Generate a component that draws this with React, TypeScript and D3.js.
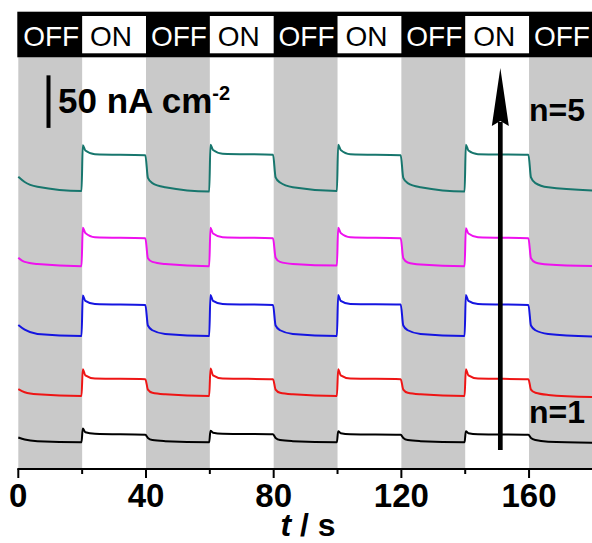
import React from 'react';
import * as d3 from 'd3';

const W = 592;
const H = 543;

// illumination phases (s)
const phaseLabels = ['OFF', 'ON', 'OFF', 'ON', 'OFF', 'ON', 'OFF', 'ON', 'OFF'];
const phaseStarts = [0, 20, 40, 60, 80, 100, 120, 140, 160];
const phaseEnds = [20, 40, 60, 80, 100, 120, 140, 160, 180];

// x ticks
const majorTicks = [0, 40, 80, 120, 160];
const minorTicks = [20, 60, 100, 140];

// key time points of the photocurrent traces (s)
const times = [
  0, 2, 6, 19.8,
  20.2, 21, 24, 39.8,
  40.6, 42, 46, 59.8,
  60.2, 61, 64, 79.8,
  80.6, 82, 86, 99.8,
  100.2, 101, 104, 119.8,
  120.6, 122, 126, 139.8,
  140.2, 141, 144, 159.8,
  160.6, 162, 166, 180,
];

// current densities (nA cm^-2, stacked with offsets)
const n5Values = [
  277, 272, 267.5, 263.5,
  307, 302, 298.5, 297.5,
  276, 271, 267, 263,
  307.5, 302.5, 299, 298,
  276.5, 271.5, 267, 263.5,
  307.5, 302.5, 298.5, 297.5,
  276, 271, 267, 263,
  307.5, 302, 298.5, 298,
  276.5, 271, 267, 264,
];
const n4Values = [
  200, 196, 194, 192,
  228.5, 223.5, 219.5, 218.5,
  199.5, 196, 194, 192,
  228.5, 223, 219.5, 218.5,
  200, 196, 194, 192.5,
  228.5, 223.5, 219.5, 218.5,
  199.5, 195.5, 193.5, 192,
  228, 223, 219.5, 218.5,
  199.5, 195.5, 193.5, 192,
];
const n3Values = [
  136, 131.5, 127.5, 125.5,
  164, 159, 156, 155,
  135.5, 131, 127.5, 125.5,
  164.5, 159, 156, 155,
  135.5, 131, 127.5, 125.5,
  164.5, 159, 156, 155.5,
  135.5, 131, 127.5, 125.5,
  164.5, 159, 156, 155,
  135.5, 131, 127.5, 125,
];
const n2Values = [
  75, 72, 70, 68.5,
  94, 88, 85, 84.5,
  74.5, 71.5, 70, 68.5,
  94.5, 88, 85, 84.5,
  74.5, 71.5, 70, 68.5,
  94, 88, 85, 84.5,
  74.5, 71.5, 70, 68.5,
  94, 88, 85, 84.5,
  74.5, 71.5, 69.5, 67.5,
];
const n1Values = [
  29, 27, 25.5, 24.5,
  37.5, 34, 32.5, 31.5,
  28.5, 26.5, 25.5, 24.5,
  35.5, 33.5, 32.5, 32,
  28.5, 26.5, 25.5, 24.5,
  35, 33, 32, 31.5,
  28.5, 26.5, 25.5, 24.5,
  35, 33, 32, 31.5,
  28.5, 26.5, 25, 24,
];

const seriesNames = ['n=5', 'n=4', 'n=3', 'n=2', 'n=1'];
const seriesColors = ['#17766d', '#ee11ee', '#1515e0', '#ee1515', '#000000'];
const seriesValues = [n5Values, n4Values, n3Values, n2Values, n1Values];

// scale bar and arrow (data units)
const scaleBarBase = 323.5;
const scaleBarSize = 50;
const arrowTime = 151;
const arrowFrom = 17;
const arrowTo = 380.5;

const FONT = "'Liberation Sans', Arial, Helvetica, sans-serif";

export default function App() {
  const x = d3.scaleLinear().domain([0, 180]).range([18.3, 592.9]);
  const y = d3.scaleLinear().domain([-1, 390]).range([469, 58]);

  const barTop = 11.7;
  const barBottom = 57.3;
  const plotTop = 57.3;
  const axisY = 469;

  const line = d3
    .line<number>()
    .x((_, i) => x(times[i]))
    .y((v) => y(v))
    .curve(d3.curveMonotoneX);

  const ax = x(arrowTime);
  const tipY = y(arrowTo);
  const headLen = 58;
  const headHalf = 8.5;

  return (
    <svg
      width={W}
      height={H}
      viewBox={`0 0 ${W} ${H}`}
      style={{ position: 'absolute', left: 0, top: 0, background: '#fff' }}
      fontFamily={FONT}
    >
      <rect x={0} y={0} width={W} height={H} fill="#fff" />
      {/* gray OFF bands */}
      {phaseLabels.map((lab, i) =>
        lab === 'OFF' ? (
          <rect
            key={'band' + i}
            x={x(phaseStarts[i])}
            y={plotTop}
            width={x(phaseEnds[i]) - x(phaseStarts[i])}
            height={axisY - plotTop}
            fill="#c9c9c9"
          />
        ) : null
      )}
      {/* top illumination bar */}
      <rect x={x(0) - 1} y={barTop} width={W - x(0) + 2} height={barBottom - barTop} fill="#000" />
      {phaseLabels.map((lab, i) => {
        const cx = (x(phaseStarts[i]) + x(phaseEnds[i])) / 2;
        return (
          <g key={'ph' + i}>
            {lab === 'ON' && (
              <rect
                x={x(phaseStarts[i])}
                y={16}
                width={x(phaseEnds[i]) - x(phaseStarts[i])}
                height={37.3}
                fill="#fff"
              />
            )}
            <text
              x={lab === 'ON' ? cx - 3 : cx + 1}
              y={45.5}
              textAnchor="middle"
              fontSize={28}
              fill={lab === 'ON' ? '#000' : '#fff'}
            >
              {lab}
            </text>
          </g>
        );
      })}
      {/* traces */}
      {seriesValues.map((vals, i) => (
        <path
          key={seriesNames[i]}
          d={line(vals) || ''}
          fill="none"
          stroke={seriesColors[i]}
          strokeWidth={2}
          strokeLinejoin="round"
        />
      ))}
      {/* x axis */}
      <line x1={x(0) - 1} x2={W} y1={axisY} y2={axisY} stroke="#000" strokeWidth={2} />
      {majorTicks.map((t) => (
        <g key={'mt' + t}>
          <line x1={x(t)} x2={x(t)} y1={axisY} y2={axisY + 9} stroke="#000" strokeWidth={2} />
          <text x={x(t)} y={507} textAnchor="middle" fontSize={33} fontWeight="bold" fill="#000">
            {t}
          </text>
        </g>
      ))}
      {minorTicks.map((t) => (
        <line key={'mn' + t} x1={x(t)} x2={x(t)} y1={axisY} y2={axisY + 5} stroke="#000" strokeWidth={2} />
      ))}
      <text x={308} y={536} textAnchor="middle" fontSize={32} fontWeight="bold" fill="#000">
        <tspan fontStyle="italic">t</tspan>
        <tspan> / s</tspan>
      </text>
      {/* scale bar */}
      <line
        x1={48.5}
        x2={48.5}
        y1={y(scaleBarBase)}
        y2={y(scaleBarBase + scaleBarSize)}
        stroke="#000"
        strokeWidth={4}
      />
      <text x={58} y={113} fontSize={35} fontWeight="bold" fill="#000">
        <tspan>50 nA cm</tspan>
        <tspan fontSize={20} dy={-13}>-2</tspan>
      </text>
      {/* arrow */}
      <line x1={ax} x2={ax} y1={y(arrowFrom)} y2={tipY + headLen - 4} stroke="#000" strokeWidth={4.7} />
      <path
        d={`M${ax},${tipY} L${ax + headHalf},${tipY + headLen} L${ax},${tipY + headLen - 5} L${ax - headHalf},${tipY + headLen} Z`}
        fill="#000"
      />
      <text x={529} y={121} fontSize={32} fontWeight="bold" fill="#000">
        n=5
      </text>
      <text x={529} y={423} fontSize={32} fontWeight="bold" fill="#000">
        n=1
      </text>
    </svg>
  );
}
